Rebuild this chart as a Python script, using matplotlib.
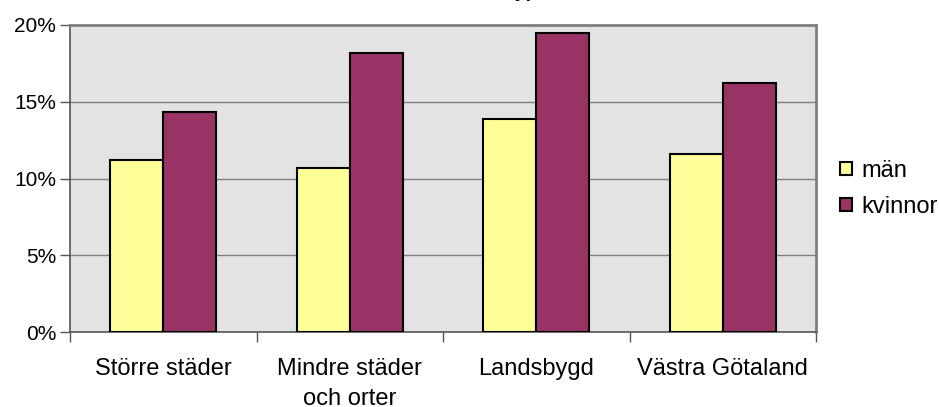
import numpy as np
import matplotlib.pyplot as plt
from matplotlib.ticker import FuncFormatter

plt.rcParams['font.family'] = ['Liberation Sans', 'DejaVu Sans']

categories = ['Större städer', 'Mindre städer\noch orter', 'Landsbygd', 'Västra Götaland']
man = [11.2, 10.7, 13.9, 11.6]
kvinnor = [14.3, 18.2, 19.5, 16.2]

fig = plt.figure(figsize=(9.39, 4.07), dpi=100)
ax = fig.add_axes([70/939, 1 - 332/407, (816 - 70)/939, (332 - 25)/407])
ax.set_facecolor('#e3e3e3')

x = np.arange(len(categories))
w = 0.285
ax.bar(x - w/2, man, w, color='#ffff99', edgecolor='black', linewidth=1.5, label='män', zorder=3)
ax.bar(x + w/2, kvinnor, w, color='#993366', edgecolor='black', linewidth=1.5, label='kvinnor', zorder=3)

ax.set_xlim(-0.5, len(categories) - 0.5)
ax.set_ylim(0, 20)
ax.set_yticks([0, 5, 10, 15, 20])
ax.yaxis.set_major_formatter(FuncFormatter(lambda v, p: f'{v:.0f}%'))
ax.grid(axis='y', color='#808080', linewidth=1, zorder=1)

# category separators as ticks, labels in the middle
ax.set_xticks(np.arange(-0.5, len(categories)), minor=False)
ax.set_xticklabels([])
ax.set_xticks(x, minor=True)
ax.set_xticklabels(categories, minor=True, fontsize=17, linespacing=1.45)
ax.tick_params(axis='x', which='minor', length=0, pad=19)
ax.tick_params(axis='x', which='major', length=7, width=1, color='#555555')
ax.tick_params(axis='y', length=7, width=1, color='#555555', labelsize=15, pad=3)

for s in ['top', 'right']:
    ax.spines[s].set_color('#808080')
    ax.spines[s].set_linewidth(2)
for s in ['left', 'bottom']:
    ax.spines[s].set_color('#555555')
    ax.spines[s].set_linewidth(1.2)

ax.legend(loc='center left', bbox_to_anchor=(1.01, 0.466), frameon=False, fontsize=17,
          handlelength=0.5, handleheight=0.5, handletextpad=0.4, labelspacing=0.6,
          borderaxespad=0.3)

# title mostly cut off at the top of the image
fig.text(538/939, 1 + 3/407, 'Boendetyp', ha='right', va='baseline',
         fontsize=14, fontweight='bold')

fig.savefig('out.png', dpi=100)
